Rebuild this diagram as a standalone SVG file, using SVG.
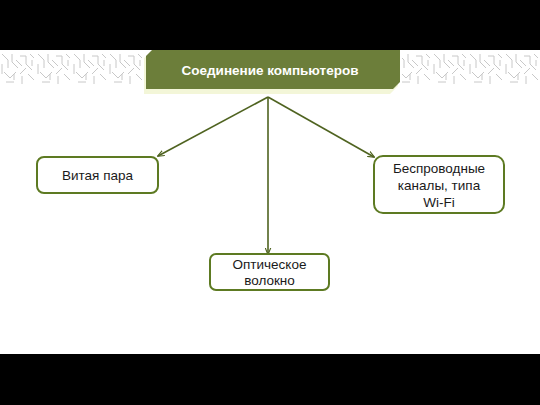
<svg xmlns="http://www.w3.org/2000/svg" width="540" height="405" viewBox="0 0 540 405">
  <defs>
    <style>
      .node { fill: #ffffff; stroke: #5d7a22; stroke-width: 2; }
      .lbl { font-family: "Liberation Sans", Arial, sans-serif; font-size: 13.5px; fill: #1a1a1a; text-anchor: middle; }
      .hdr { font-family: "Liberation Sans", Arial, sans-serif; font-size: 13.5px; font-weight: bold; fill: #ffffff; text-anchor: middle; }
      .conn { stroke: #4f6320; stroke-width: 1.6; fill: none; marker-end: url(#arr); }
      .tex { stroke: #c8c8c8; stroke-width: 1; fill: none; }
    </style>
    <marker id="arr" viewBox="0 0 10 10" refX="9" refY="5" markerWidth="7" markerHeight="7" orient="auto" markerUnits="userSpaceOnUse">
      <path d="M0,1 L10,5 L0,9" fill="none" stroke="#4f6320" stroke-width="1.6"/>
    </marker>
    <pattern id="circ" x="0" y="52" width="36" height="34" patternUnits="userSpaceOnUse">
      <path class="tex" d="M2,2 L8,8 L8,16 M12,2 L12,10 L18,16 M4,20 L10,26 L16,20 M20,4 L26,4 L26,12 L32,18 M28,22 L34,28 M22,24 L22,32 M6,30 L14,30 M30,2 L34,6 M16,8 L22,14 M2,12 L2,22 M14,22 L14,28 M26,16 L20,22 M32,8 L32,14"/>
    </pattern>
  </defs>
  <rect x="0" y="0" width="540" height="405" fill="#ffffff"/>
  <rect x="0" y="0" width="540" height="50" fill="#000000"/>
  <rect x="0" y="354" width="540" height="51" fill="#000000"/>
  <rect x="0" y="52" width="142" height="34" fill="url(#circ)"/>
  <rect x="402" y="52" width="138" height="34" fill="url(#circ)"/>

  <g id="header">
    <path d="M144,58 L152,52 L398,52 L398,86 L390,94 L144,94 Z" fill="#f3f6d8"/>
    <path d="M146,56 L152,50 L400,50 L400,82 L393,89 L146,89 Z" fill="#6c7e3a"/>
    <text class="hdr" x="270" y="75">Соединение компьютеров</text>
  </g>

  <g id="connectors">
    <line class="conn" x1="268" y1="97" x2="158" y2="156"/>
    <line class="conn" x1="268" y1="97" x2="374" y2="157"/>
    <line class="conn" x1="268" y1="97" x2="268" y2="254"/>
  </g>

  <g id="node-twisted">
    <rect class="node" x="37" y="157" width="121" height="36" rx="7"/>
    <text class="lbl" x="97.5" y="180">Витая пара</text>
  </g>
  <g id="node-wireless">
    <rect class="node" x="374" y="156" width="130" height="57" rx="9"/>
    <text class="lbl" x="439" y="173">Беспроводные</text>
    <text class="lbl" x="439" y="190">каналы, типа</text>
    <text class="lbl" x="439" y="207">Wi-Fi</text>
  </g>
  <g id="node-optical">
    <rect class="node" x="210" y="254" width="119" height="36" rx="6"/>
    <text class="lbl" x="269.5" y="269">Оптическое</text>
    <text class="lbl" x="269.5" y="285">волокно</text>
  </g>
</svg>
